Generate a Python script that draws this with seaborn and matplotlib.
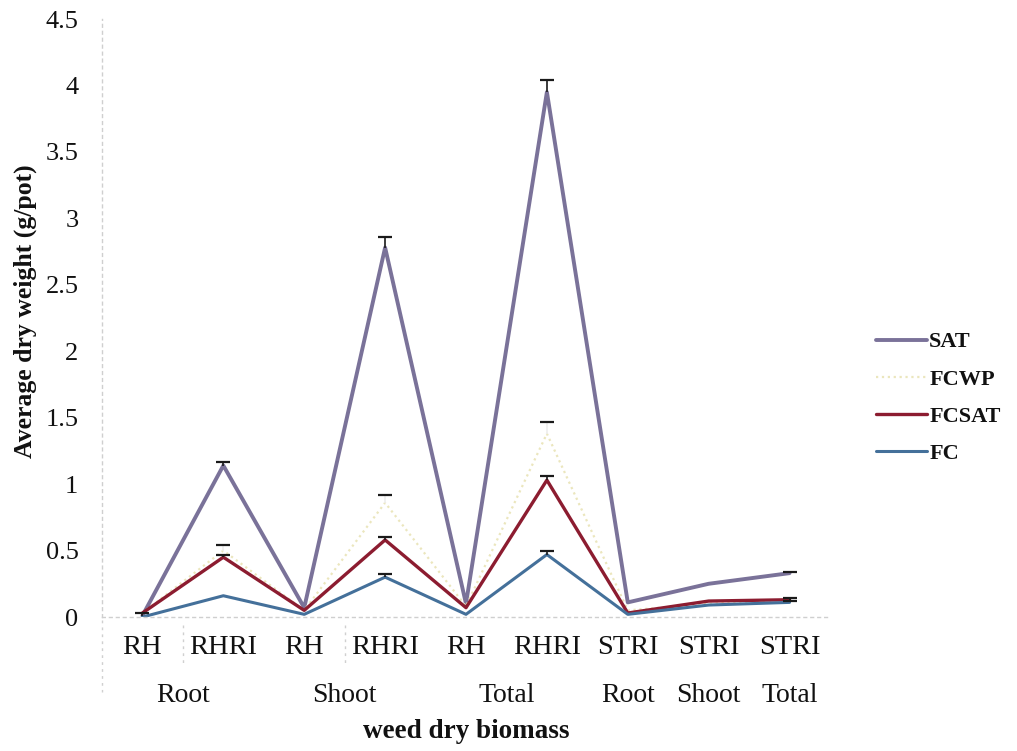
import matplotlib
matplotlib.use("Agg")
import matplotlib.pyplot as plt
import seaborn as sns
import pandas as pd
import numpy as np

# ---- data ----
sub_labels = ["RH", "RHRI", "RH", "RHRI", "RH", "RHRI", "STRI", "STRI", "STRI"]
group_labels = ["Root", "Shoot", "Total", "Root", "Shoot", "Total"]
group_pos = [0.5, 2.5, 4.5, 6, 7, 8]
series_names = ["SAT", "FCWP", "FCSAT", "FC"]

sat = [0.01, 1.14, 0.07, 2.78, 0.10, 3.95, 0.11, 0.25, 0.33]
fcwp = [0.03, 0.50, 0.05, 0.86, 0.08, 1.38, 0.05, 0.10, 0.13]
fcsat = [0.03, 0.45, 0.05, 0.58, 0.07, 1.03, 0.03, 0.12, 0.13]
fc = [0.00, 0.16, 0.02, 0.30, 0.02, 0.47, 0.02, 0.09, 0.11]

sat_err = [0.02, 0.03, 0.0, 0.08, 0.0, 0.09, 0.0, 0.0, 0.01]
fcwp_err = [0.0, 0.04, 0.0, 0.06, 0.0, 0.09, 0.0, 0.0, 0.0]
fcsat_err = [0.0, 0.02, 0.0, 0.02, 0.0, 0.03, 0.0, 0.0, 0.01]
fc_err = [0.0, 0.0, 0.0, 0.02, 0.0, 0.03, 0.0, 0.0, 0.01]

values = {"SAT": sat, "FCWP": fcwp, "FCSAT": fcsat, "FC": fc}
errors = {"SAT": sat_err, "FCWP": fcwp_err, "FCSAT": fcsat_err, "FC": fc_err}

colors = {"SAT": "#7a7299", "FCWP": "#ebe6bd", "FCSAT": "#8c1c30", "FC": "#44709a"}
widths = {"SAT": 2.8, "FCWP": 1.6, "FCSAT": 2.4, "FC": 2.2}
styles = {"SAT": "-", "FCWP": ":", "FCSAT": "-", "FC": "-"}
stem_colors = {"SAT": "#1a1a1a", "FCWP": "#eeeeee", "FCSAT": "#1a1a1a", "FC": "#1a1a1a"}

rows = []
for s in series_names:
    for i, v in enumerate(values[s]):
        rows.append({"pos": i, "value": v, "series": s})
df = pd.DataFrame(rows)

sns.set_theme(style="white")
plt.rcParams["font.family"] = ["Liberation Serif", "DejaVu Serif"]

fig = plt.figure(figsize=(10.17, 7.51), dpi=100)
ax = fig.add_axes([102 / 1017, 1 - 617 / 751, 728 / 1017, (617 - 19) / 751])

for s in series_names:
    sub = df[df["series"] == s]
    sns.lineplot(data=sub, x="pos", y="value", ax=ax, color=colors[s],
                 linewidth=widths[s], linestyle=styles[s], label=s,
                 estimator=None, sort=False)

# error bars (upper caps only)
for s in series_names:
    err = np.array(errors[s])
    mask = err > 0
    xs = np.arange(len(sub_labels))[mask]
    ys = np.array(values[s])[mask]
    _, caps, bars = ax.errorbar(xs, ys, yerr=[np.zeros(mask.sum()), err[mask]], fmt="none",
                                ecolor=stem_colors[s], elinewidth=1.2, capsize=5,
                                capthick=1.6, zorder=5)
    for c in caps:
        c.set_markeredgecolor("#1a1a1a")
        c.set_markerfacecolor("#1a1a1a")
    if len(caps) == 2:
        caps[0].set_visible(False)

ax.set_xlim(-0.5, 8.5)
ax.set_ylim(0, 4.5)
ax.set_yticks(np.arange(0, 4.51, 0.5))
ax.set_yticklabels([f"{t:g}" for t in np.arange(0, 4.51, 0.5)])
ax.set_xticks(range(len(sub_labels)))
ax.set_xticklabels(sub_labels)
ax.tick_params(axis="y", length=0, pad=17, labelsize=19, labelcolor="#111111")
ax.tick_params(axis="x", length=0, pad=13, labelsize=20.5, labelcolor="#111111")
ax.set_xlabel("")
ax.set_ylabel("")

for sp in ["top", "right"]:
    ax.spines[sp].set_visible(False)
for sp in ["left", "bottom"]:
    ax.spines[sp].set_color("#cfcfcf")
    ax.spines[sp].set_linestyle((0, (2, 3)))
    ax.spines[sp].set_linewidth(1.0)

# group labels
trans = matplotlib.transforms.blended_transform_factory(ax.transData, ax.transAxes)
for gx, gl in zip(group_pos, group_labels):
    ax.text(gx, -0.132, gl, transform=trans, ha="center", va="center",
            fontsize=20, color="#111111")

# faint separators in the category area
for sx, y0, y1 in [(-0.5, -0.005, -0.125), (0.5, -0.013, -0.08), (2.5, -0.013, -0.08)]:
    ax.plot([sx, sx], [y0, y1], transform=trans, color="#d0d0d0",
            linestyle=(0, (2, 3)), linewidth=1.0, clip_on=False)

fig.text(466 / 1017, 1 - 731 / 751, "weed dry biomass", ha="center", va="center",
         fontsize=19.5, fontweight="bold", color="#111111")
fig.text(25 / 1017, 1 - 311 / 751, "Average dry weight (g/pot)", ha="center",
         va="center", rotation=90, fontsize=18.5, fontweight="bold", color="#111111")

if ax.get_legend():
    ax.get_legend().remove()
handles, labels = ax.get_legend_handles_labels()
leg = fig.legend(handles[:4], labels[:4], loc="center left",
                 bbox_to_anchor=(867 / 1017, 1 - 398 / 751), frameon=False,
                 prop={"family": ["Liberation Serif"], "weight": "bold", "size": 16},
                 handlelength=2.3, handletextpad=0.1, labelspacing=0.75,
                 borderaxespad=0)
for t in leg.get_texts():
    t.set_color("#111111")

fig.savefig("out.png", dpi=100)
